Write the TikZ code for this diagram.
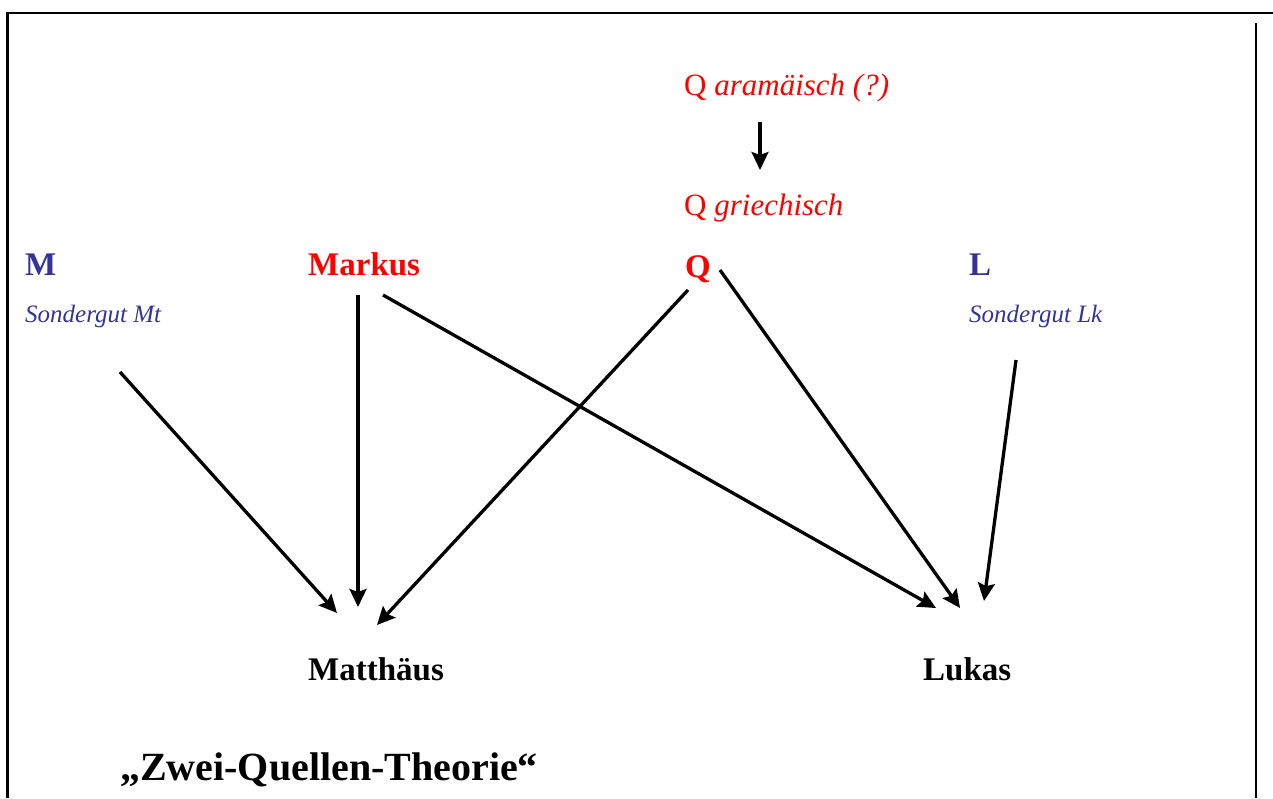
\documentclass[tikz,border=0pt]{standalone}
\usepackage{fontspec}
\setmainfont{Liberation Serif}
\usetikzlibrary{arrows.meta}
\definecolor{qred}{RGB}{255,0,0}
\definecolor{sgblue}{RGB}{51,51,153}

\begin{document}
\begin{tikzpicture}[
    x=1pt, y=-1pt,
    lbl/.style = {inner sep=0pt, anchor=base west},
    src/.style = {lbl, font=\fontsize{33}{40}\selectfont\bfseries},
    qtxt/.style = {lbl, text=qred, font=\fontsize{31}{38}\selectfont},
    sgut/.style = {lbl, text=sgblue, font=\fontsize{25}{30}\selectfont\itshape},
    arr/.style = {-{Stealth[length=18pt, width=17pt, inset=3pt]}, line width=3.3pt, black},
    frame/.style = {line width=2.6pt, black},
  ]
    \useasboundingbox (0,0) rectangle (1273,798);
    % frame
    \draw[frame] (6,13) -- (1273,13);
    \draw[frame] (7.5,13) -- (7.5,798);
    \draw[frame] (1256,23) -- (1256,798);
    % Q layers
    \node[qtxt] (qa) at (684,95) {Q \textit{aramäisch (?)}};
    \node[qtxt] (qg) at (684,215) {Q \textit{griechisch}};
    % sources
    \node[src, text=sgblue] (m) at (25,275) {M};
    \node[sgut] (sgm) at (25,322) {Sondergut Mt};
    \node[src, text=qred] (mk) at (308,275) {Markus};
    \node[src, text=qred] (q) at (685,277) {Q};
    \node[src, text=sgblue] (l) at (969,275) {L};
    \node[sgut] (sgl) at (969,322) {Sondergut Lk};
    % gospels
    \node[src] (mt) at (308,680) {Matthäus};
    \node[src] (lk) at (923,680) {Lukas};
    \node[lbl, font=\fontsize{40}{48}\selectfont\bfseries] (title) at (120,780)
      {„Zwei-Quellen-Theorie“};
    % arrows
    \draw[arr] ([shift={(76,27)}]qa.base west) -- ([shift={(76,-45)}]qg.base west);
    \draw[arr] ([shift={(95,50)}]sgm.base west) -- ([shift={(29,-67)}]mt.base west);
    \draw[arr] ([shift={(50,20)}]mk.base west) -- ([shift={(50,-73)}]mt.base west);
    \draw[arr] ([shift={(75,20)}]mk.base west) -- ([shift={(13,-72)}]lk.base west);
    \draw[arr] ([shift={(3,13)}]q.base west) -- ([shift={(69,-55)}]mt.base west);
    \draw[arr] ([shift={(35,-7)}]q.base west) -- ([shift={(37,-72)}]lk.base west);
    \draw[arr] ([shift={(47,38)}]sgl.base west) -- ([shift={(61,-79)}]lk.base west);
\end{tikzpicture}
\end{document}
